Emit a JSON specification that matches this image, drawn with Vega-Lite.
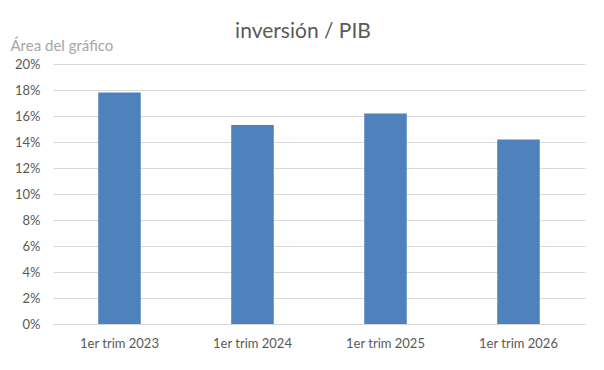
{
  "$schema": "https://vega.github.io/schema/vega-lite/v6.json",
  "width": 532,
  "height": 260,
  "autosize": "none",
  "padding": {"left": 53, "top": 64, "right": 19, "bottom": 46},
  "background": "white",
  "title": {
    "text": "inversión / PIB",
    "font": "Lato",
    "fontSize": 21,
    "fontWeight": "normal",
    "color": "#595959",
    "anchor": "middle",
    "dx": -16,
    "offset": -4
  },
  "config": {
    "view": {"stroke": null},
    "font": "Lato"
  },
  "data": {
    "values": [
      {"periodo": "1er trim 2023", "valor": 0.178},
      {"periodo": "1er trim 2024", "valor": 0.153},
      {"periodo": "1er trim 2025", "valor": 0.162},
      {"periodo": "1er trim 2026", "valor": 0.142}
    ]
  },
  "mark": {"type": "bar", "color": "#4f81bd"},
  "encoding": {
    "x": {
      "field": "periodo",
      "type": "nominal",
      "sort": null,
      "scale": {"paddingInner": 0.68, "paddingOuter": 0.34},
      "axis": {
        "title": null,
        "labelAngle": 0,
        "labelFont": "Lato",
        "labelFontSize": 13,
        "labelColor": "#595959",
        "labelPadding": 13,
        "ticks": false,
        "domainColor": "#d9d9d9",
        "domainWidth": 1
      }
    },
    "y": {
      "field": "valor",
      "type": "quantitative",
      "scale": {"domain": [0, 0.2], "nice": false},
      "axis": {
        "format": ".0%",
        "values": [0, 0.02, 0.04, 0.06, 0.08, 0.1, 0.12, 0.14, 0.16, 0.18, 0.2],
        "labelFont": "Lato",
        "labelFontSize": 13,
        "labelColor": "#595959",
        "labelPadding": 13,
        "ticks": false,
        "domain": false,
        "gridColor": "#d9d9d9",
        "title": "Área del gráfico",
        "titleAngle": 0,
        "titleAlign": "left",
        "titleBaseline": "alphabetic",
        "titleX": -43,
        "titleY": -14,
        "titleFont": "Lato",
        "titleFontSize": 15,
        "titleFontWeight": "normal",
        "titleColor": "#a6a6a6"
      }
    }
  }
}
